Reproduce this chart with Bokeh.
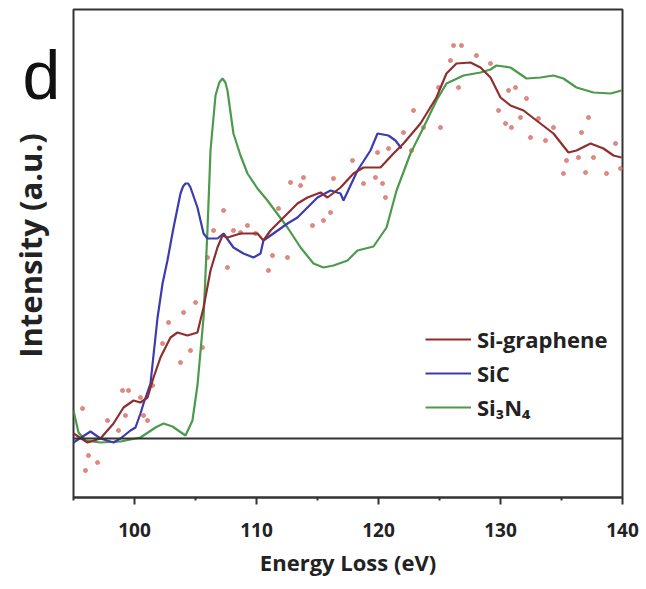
from bokeh.plotting import figure
from bokeh.layouts import row, column
from bokeh.models import (Range1d, FixedTicker, Legend, LegendItem, Span, LinearAxis, Title)
from bokeh.embed import file_html
from bokeh.resources import INLINE

# ---- data (Energy loss in eV, intensity in a.u.) ----
si3n4_x = [95.0, 95.41, 95.98, 97.21, 98.85, 100.49, 101.72, 102.38, 103.11, 104.18, 104.75,
           105.16, 105.66, 105.98, 106.23, 106.64, 106.95, 107.21, 107.45, 107.62, 108.11, 108.69, 109.26,
           110.08, 110.90, 112.54, 113.61, 114.67, 115.49, 116.31, 117.46, 118.28, 119.59,
           120.66, 121.48, 122.62, 123.69, 124.75, 125.57, 126.97, 128.36, 129.18, 129.67,
           130.82, 132.13, 133.28, 134.34, 135.16, 136.23, 137.62, 139.02, 139.92]
si3n4_y = [0.28, 0.06, -0.02, -0.04, -0.03, 0.01, 0.11, 0.15, 0.12, 0.03, 0.18,
           0.53, 1.21, 2.08, 2.88, 3.43, 3.56, 3.60, 3.56, 3.48, 3.05, 2.83, 2.65,
           2.50, 2.38, 2.11, 1.91, 1.75, 1.71, 1.73, 1.78, 1.88, 1.92,
           2.11, 2.48, 2.85, 3.11, 3.38, 3.55, 3.63, 3.66, 3.69, 3.73,
           3.71, 3.60, 3.61, 3.63, 3.60, 3.51, 3.46, 3.45, 3.48]

sic_x = [95.0, 96.39, 97.21, 98.28, 98.85, 99.67, 100.08, 100.49, 100.74, 101.31, 101.89,
         102.30, 102.70, 103.20, 103.77, 103.98, 104.18, 104.40, 104.59, 105.16, 105.66, 105.98, 106.80,
         107.30, 107.70, 108.11, 108.93, 109.75, 110.33, 110.57, 111.39, 112.54, 113.36,
         114.18, 115.00, 116.07, 116.89, 117.13, 118.28, 119.34, 119.92, 120.82, 121.39, 121.89]
sic_y = [-0.04, 0.07, 0.00, -0.04, 0.00, 0.08, 0.11, 0.25, 0.35, 0.55, 1.21,
         1.55, 1.78, 2.11, 2.45, 2.52, 2.55, 2.55, 2.51, 2.31, 2.05, 2.00, 2.00,
         2.05, 1.98, 1.91, 1.85, 1.81, 1.85, 1.98, 2.05, 2.15, 2.21,
         2.31, 2.41, 2.48, 2.45, 2.38, 2.68, 2.88, 3.05, 3.03, 2.98, 2.90]

sigr_x = [95.0, 96.15, 97.21, 98.28, 99.10, 99.92, 100.49, 101.07, 101.56, 102.13, 102.95,
          103.52, 104.34, 105.16, 105.66, 106.23, 106.80, 107.21, 107.62, 108.69, 110.08,
          110.57, 111.15, 111.97, 113.36, 114.18, 115.25, 115.82, 116.89, 117.95, 118.77,
          120.16, 121.23, 122.05, 123.44, 124.75, 125.57, 126.39, 127.54, 128.36, 129.18,
          130.00, 130.82, 131.89, 132.95, 134.34, 135.57, 136.23, 137.38, 138.44, 139.26, 139.92]
sigr_y = [0.05, -0.04, 0.00, 0.15, 0.31, 0.38, 0.36, 0.41, 0.61, 0.81, 1.01,
          1.06, 1.03, 1.06, 1.31, 1.68, 1.91, 2.03, 2.01, 2.05, 2.05,
          1.98, 2.08, 2.18, 2.35, 2.41, 2.46, 2.41, 2.51, 2.65, 2.71,
          2.71, 2.85, 2.95, 3.15, 3.41, 3.65, 3.75, 3.76, 3.71, 3.61,
          3.41, 3.33, 3.28, 3.18, 3.05, 2.86, 2.88, 2.95, 2.90, 2.83, 2.81]

raw_x = [95.74, 96.23, 96.97, 95.98, 97.79, 99.02, 99.51, 99.26, 98.69, 100.74, 101.07,
         100.49, 101.48, 102.30, 102.79, 103.77, 104.02, 104.59, 105.00, 105.57, 105.98,
         106.48, 107.30, 107.62, 108.11, 108.69, 109.26, 109.92, 110.98, 111.31, 112.54,
         111.80, 112.79, 113.61, 113.85, 114.59, 115.49, 116.07, 116.31, 117.87, 118.77,
         119.75, 120.33, 120.57, 119.92, 120.82, 122.05, 122.70, 122.87, 123.69, 125.08,
         124.92, 125.90, 126.15, 126.80, 126.56, 128.03, 129.18, 129.84, 130.41, 130.90,
         130.66, 131.23, 132.13, 131.64, 132.46, 133.11, 133.69, 134.34, 135.16, 135.41,
         136.64, 136.39, 137.21, 136.97, 137.62, 138.69, 139.43, 139.84]
raw_y = [0.30, -0.17, -0.24, -0.32, 0.18, 0.48, 0.48, 0.23, 0.08, 0.23, 0.18,
         0.41, 0.53, 0.95, 1.16, 0.76, 1.26, 0.88, 1.36, 0.91, 1.81,
         2.08, 2.28, 1.71, 2.08, 2.06, 2.13, 2.05, 1.68, 1.83, 1.81,
         2.30, 2.56, 2.53, 2.61, 2.13, 2.18, 2.26, 2.60, 2.78, 2.55,
         2.61, 2.55, 2.41, 2.86, 2.90, 3.06, 2.88, 3.28, 3.11, 3.11,
         3.51, 3.78, 3.93, 3.93, 3.51, 3.83, 3.75, 3.28, 3.15, 3.11,
         3.48, 3.51, 3.40, 3.21, 3.01, 3.20, 2.98, 3.11, 2.65, 2.78,
         3.06, 2.81, 3.21, 2.66, 2.81, 2.65, 2.95, 2.70]

x_ticks = [100, 110, 120, 130, 140]
x_minor = [95, 105, 115, 125, 135]

FONT = "Open Sans"
RED = "#8e2f2f"
BLUE = "#3c3cb0"
GREEN = "#4c9a4c"
DOT = "#d9786f"
TXT = "#222222"

H = 585
LW = 72    # width of the left strip (panel letter + y title)
PW = 568   # width of the main plot

# ---- left strip: y-axis title as an axis label, panel letter as a title ----
ps = figure(width=LW, height=H, output_backend="svg", toolbar_location=None,
            x_range=Range1d(0, 1), y_range=Range1d(0, 1),
            min_border_left=LW - 1, min_border_right=0,
            min_border_top=140, min_border_bottom=H - 350,
            x_axis_location=None, y_axis_location=None)
ps.grid.visible = False
ps.outline_line_color = None
ps.background_fill_color = "white"
ps.border_fill_color = "white"

ya = LinearAxis(ticker=FixedTicker(ticks=[]))
ya.axis_label = "Intensity (a.u.)"
ya.axis_label_text_font = FONT
ya.axis_label_text_font_size = "31px"
ya.axis_label_text_font_style = "bold"
ya.axis_label_text_color = TXT
ya.axis_label_standoff = 21
ya.major_tick_in = 0
ya.major_tick_out = 0
ya.minor_tick_in = 0
ya.minor_tick_out = 0
ya.major_label_text_font_size = "0px"
ya.axis_line_color = None
ps.add_layout(ya, "left")

ps.add_layout(Title(text="d", align="left", offset=-49, standoff=56,
                    text_font="Liberation Sans", text_font_size="68px",
                    text_font_style="normal", text_color="#111111"), "above")

# ---- main plot ----
p = figure(width=PW, height=H, output_backend="svg", toolbar_location=None,
           x_range=Range1d(95, 140), y_range=Range1d(-0.59, 4.29),
           min_border_left=1, min_border_right=18, min_border_top=9, min_border_bottom=88,
           x_axis_location=None, y_axis_location=None)
p.background_fill_color = "white"
p.border_fill_color = "white"
p.grid.visible = False
p.outline_line_color = "#333333"
p.outline_line_width = 2

xa = LinearAxis(ticker=FixedTicker(ticks=x_ticks, minor_ticks=x_minor))
xa.axis_label = "Energy Loss (eV)"
xa.axis_label_text_font = FONT
xa.axis_label_text_font_size = "22px"
xa.axis_label_text_font_style = "bold"
xa.axis_label_text_color = TXT
xa.axis_label_standoff = 7
xa.major_label_text_font = FONT
xa.major_label_text_font_size = "19px"
xa.major_label_text_font_style = "bold"
xa.major_label_text_color = TXT
xa.major_label_standoff = 18
xa.major_tick_in = 0
xa.major_tick_out = 7
xa.minor_tick_in = 0
xa.minor_tick_out = 3
xa.axis_line_color = "#333333"
xa.axis_line_width = 2
xa.major_tick_line_color = "#333333"
xa.major_tick_line_width = 2
xa.minor_tick_line_color = "#333333"
xa.minor_tick_line_width = 2
p.add_layout(xa, "below")

# baseline
p.add_layout(Span(location=0, dimension="width", line_color="#333333", line_width=2))

# data
p.scatter(raw_x, raw_y, size=4, color=DOT, alpha=0.85)
r_n = p.line(si3n4_x, si3n4_y, line_color=GREEN, line_width=2.2)
r_c = p.line(sic_x, sic_y, line_color=BLUE, line_width=2.2)
r_g = p.line(sigr_x, sigr_y, line_color=RED, line_width=2.2)

legend = Legend(items=[LegendItem(label="Si-graphene", renderers=[r_g]),
                       LegendItem(label="SiC", renderers=[r_c]),
                       LegendItem(label="Si\u2083N\u2084", renderers=[r_n])],
                location=(352, 75), padding=0, margin=0, spacing=4,
                glyph_width=46, glyph_height=20, label_height=20, label_standoff=6,
                border_line_color=None, background_fill_alpha=0,
                label_text_font=FONT, label_text_font_size="22px",
                label_text_font_style="bold", label_text_color=TXT)
p.add_layout(legend)

layout = row(column(ps, spacing=0), p, spacing=0)
open("out.html", "w").write(file_html(layout, INLINE))
